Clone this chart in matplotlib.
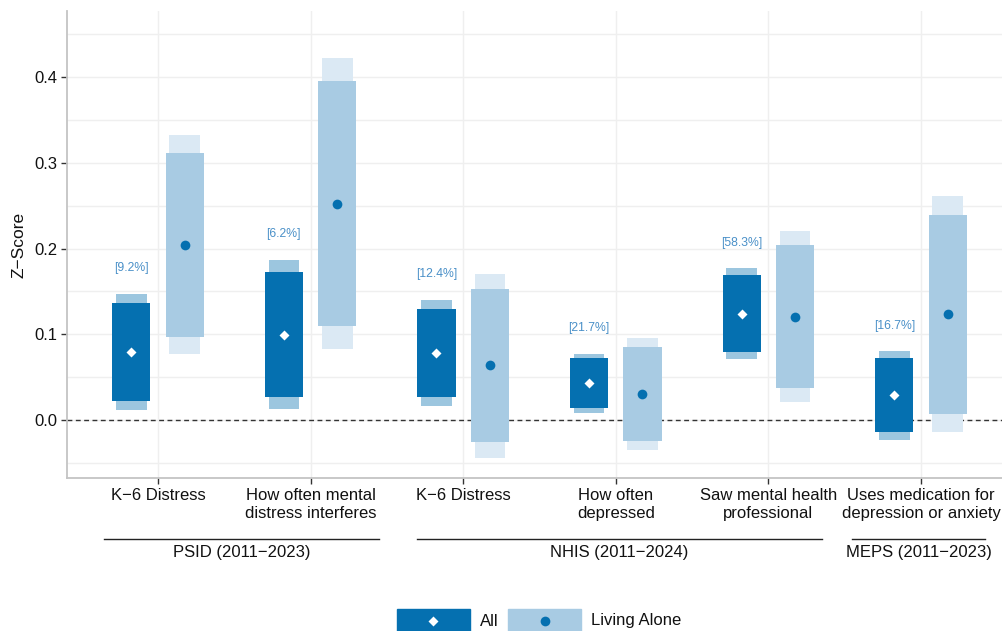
import numpy as np
import matplotlib.pyplot as plt
from matplotlib.patches import Rectangle
from matplotlib.lines import Line2D
from matplotlib.transforms import blended_transform_factory

plt.rcParams['font.family'] = ['Liberation Sans', 'DejaVu Sans']

# outcomes and the survey each one comes from
outcomes = ["K\u22126 Distress", "How often mental\ndistress interferes",
            "K\u22126 Distress", "How often\ndepressed",
            "Saw mental health\nprofessional", "Uses medication for\ndepression or anxiety"]
surveys = ["PSID (2011\u22122023)", "NHIS (2011\u22122024)", "MEPS (2011\u22122023)"]
survey_first = [0, 2, 5]
survey_last = [1, 4, 5]

# share living alone, shown above each "All" bar
share_alone = ["[9.2%]", "[6.2%]", "[12.4%]", "[21.7%]", "[58.3%]", "[16.7%]"]

# All: point estimate, 90% and 95% intervals
all_est = [0.079, 0.099, 0.078, 0.043, 0.124, 0.029]
all_lo90 = [0.022, 0.027, 0.027, 0.014, 0.079, -0.014]
all_hi90 = [0.136, 0.173, 0.129, 0.072, 0.169, 0.072]
all_lo95 = [0.012, 0.013, 0.016, 0.008, 0.071, -0.023]
all_hi95 = [0.147, 0.187, 0.140, 0.077, 0.177, 0.080]

# Living Alone: point estimate, 90% and 95% intervals
alone_est = [0.204, 0.252, 0.064, 0.030, 0.120, 0.124]
alone_lo90 = [0.097, 0.110, -0.026, -0.024, 0.037, 0.007]
alone_hi90 = [0.311, 0.395, 0.153, 0.085, 0.204, 0.239]
alone_lo95 = [0.077, 0.083, -0.044, -0.035, 0.021, -0.014]
alone_hi95 = [0.332, 0.422, 0.170, 0.096, 0.220, 0.261]

DARK = '#0570b0'
DARK_OUT = '#9cc6df'
LIGHT = '#a8cbe3'
LIGHT_OUT = '#dbe9f4'
LABEL_COL = '#4a90c8'

W, H = 1003, 631
fig = plt.figure(figsize=(W / 100, H / 100), dpi=100)
ax = fig.add_axes([67 / W, (H - 478) / H, 1 - 67 / W, (478 - 11) / H])

x = np.arange(1, len(outcomes) + 1)
off = 0.175
w_in, w_out = 0.25, 0.2

def lohi(lo, hi):
    lo = np.array(lo)
    return lo, np.array(hi) - lo

for xs, est, lo90, hi90, lo95, hi95, c_in, c_out in [
        (x - off, all_est, all_lo90, all_hi90, all_lo95, all_hi95, DARK, DARK_OUT),
        (x + off, alone_est, alone_lo90, alone_hi90, alone_lo95, alone_hi95, LIGHT, LIGHT_OUT)]:
    b, h = lohi(lo95, hi95)
    ax.bar(xs, h, bottom=b, width=w_out, color=c_out, zorder=3)
    b, h = lohi(lo90, hi90)
    ax.bar(xs, h, bottom=b, width=w_in, color=c_in, zorder=4)

ax.plot(x - off, all_est, ls='none', marker='D', ms=5, color='white', mec='none', zorder=5)
ax.plot(x + off, alone_est, ls='none', marker='o', ms=7, color=DARK, mec='none', zorder=5)

for xi, top, lab in zip(x - off, all_hi95, share_alone):
    ax.text(xi, top + 0.03, lab, ha='center', va='center', fontsize=8.8, color=LABEL_COL, zorder=6)

ax.axhline(0, color='#333333', lw=1, ls=(0, (3.5, 2.5)), zorder=2)

ax.set_xlim(1 - 0.596, 6 + 82 / 152.6)
ax.set_ylim(-0.0676, 0.477)
ax.set_yticks([0, 0.1, 0.2, 0.3, 0.4])
ax.set_yticklabels(['0.0', '0.1', '0.2', '0.3', '0.4'])
ax.set_yticks(np.arange(-0.05, 0.5, 0.1), minor=True)
ax.set_xticks(x)
ax.set_xticklabels(outcomes, linespacing=1.25)
ax.grid(which='both', axis='y', color='#efefef', lw=1.0)
ax.grid(which='major', axis='x', color='#efefef', lw=1.0)
ax.set_axisbelow(True)

ax.tick_params(axis='both', which='major', length=4, width=1, color='#333333',
               labelsize=12, labelcolor='#111111', pad=3)
ax.tick_params(axis='y', which='minor', length=0)
for s in ['top', 'right']:
    ax.spines[s].set_visible(False)
for s in ['left', 'bottom']:
    ax.spines[s].set_color('#c4c4c4')
    ax.spines[s].set_linewidth(1.3)

ax.set_ylabel('Z\u2212Score', fontsize=12.5, color='#111111')
ax.yaxis.set_label_coords(-40 / (W - 67), 0.5)

# survey brackets under the outcome labels
pad_left = [0.354, 0.303, 0.452]
pad_right = [0.448, 0.351, 0.42]
tr = blended_transform_factory(ax.transData, fig.transFigure)
for name, i0, i1, pl, pr in zip(surveys, survey_first, survey_last, pad_left, pad_right):
    x0, x1 = x[i0] - pl, x[i1] + pr
    ax.plot([x0, x1], [1 - 539 / H] * 2, color='#222222', lw=1, transform=tr, clip_on=False)
    ax.text((x0 + x1) / 2, 1 - 552 / H, name, ha='center', va='center', fontsize=12,
            color='#111111', transform=tr)

# legend along the bottom edge
ft = fig.transFigure
for x0, col, mk, mcol, ms, lab, tx in [
        (397, DARK, 'D', 'white', 5, 'All', 480),
        (508, LIGHT, 'o', DARK, 7, 'Living Alone', 591)]:
    fig.add_artist(Rectangle((x0 / W, 0), 73 / W, 22 / H, transform=ft, color=col))
    fig.add_artist(Line2D([(x0 + 36.5) / W], [1 - 621 / H], transform=ft, marker=mk,
                          ms=ms, color=mcol, mec='none', ls='none'))
    fig.text(tx / W, 1 - 621 / H, lab, ha='left', va='center', fontsize=12, color='#111111')

fig.savefig('out.png', dpi=100)
